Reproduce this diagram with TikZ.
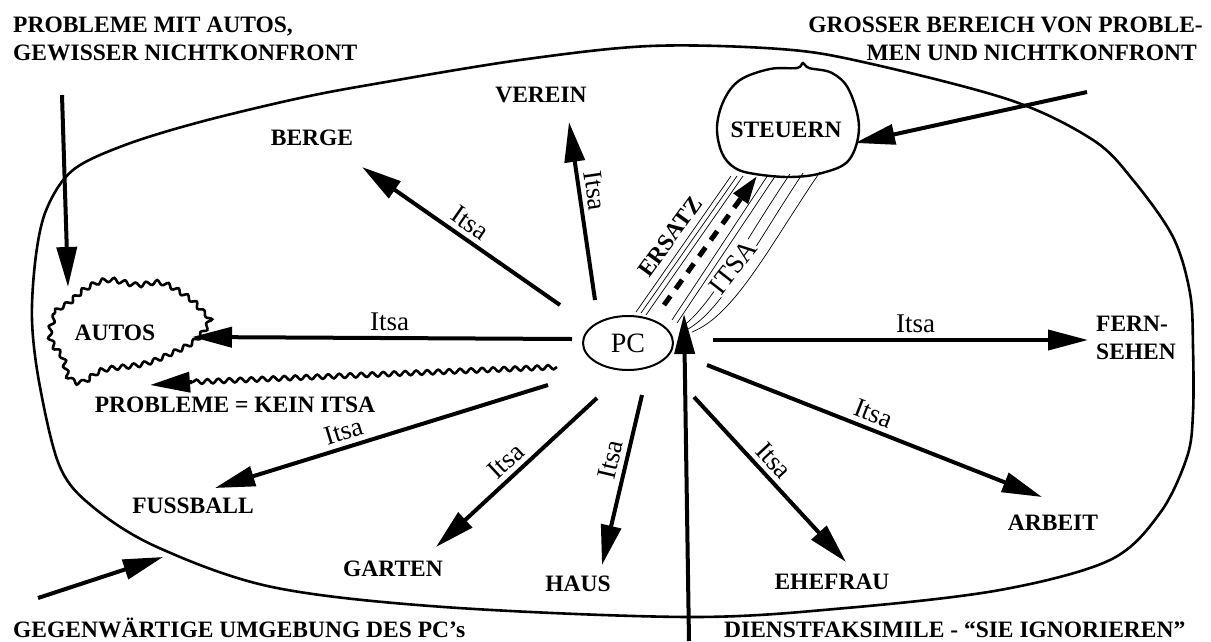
\documentclass[tikz,border=0pt]{standalone}
\usepackage{fontspec}
\setmainfont{Liberation Serif}
\usetikzlibrary{arrows.meta,decorations.pathmorphing,shapes.geometric}
\begin{document}
\begin{tikzpicture}[x=1pt,y=-1pt,
  lbl/.style={font=\fontsize{23.5}{28}\selectfont\bfseries, inner sep=0pt},
  itsa/.style={font=\fontsize{27}{29}\selectfont, inner sep=2pt, sloped, above=3pt},
  arr/.style={line width=4pt, -{Triangle[length=40pt,width=20pt]}},
  border/.style={line width=2.6pt},
  band/.style={line width=0.7pt},
  wavy/.style={line width=2.6pt, decorate, decoration={snake, segment length=11pt, amplitude=2.2pt}},
]
\useasboundingbox (0,0) rectangle (1211,641);

% environment boundary
\draw[border] plot[smooth cycle, tension=0.55] coordinates {
 (32,320) (36,255) (47,208) (73,170) (125,145) (200,122) (300,98) (380,83)
 (520,60) (650,46) (780,49) (863,62) (1010,100) (1093,140) (1133,180)
 (1173,237) (1190,293) (1193,347) (1193,413) (1187,457) (1160,513)
 (1110,560) (1000,590) (846,608) (690,617) (444,607) (272,587) (157,547)
 (93,507) (60,467) (40,387)};

% AUTOS cloud
\draw[wavy] plot[smooth cycle, tension=0.6] coordinates {
 (47,333) (55,313) (67,305) (85,290) (107,282) (135,287) (160,285) (187,300)
 (200,313) (207,323) (193,343) (167,357) (140,367) (100,373) (80,385)
 (66,380) (60,360) (50,347)};

% STEUERN blob
\draw[line width=2.4pt] plot[smooth cycle, tension=0.6] coordinates {
 (717,127) (724,100) (740,80) (770,69) (797,68) (803,63) (809,68) (832,73)
 (849,90) (859,127) (849,160) (822,173) (790,177) (755,174) (735,168) (722,153)};

% PC
\node[draw, ellipse, line width=2pt, minimum width=90pt, minimum height=54pt,
      inner sep=0pt, font=\fontsize{28}{30}\selectfont] (pc) at (628,343) {PC};

% labels
\node[lbl, anchor=base west] (h1) at (13,32) {PROBLEME MIT AUTOS,};
\node[lbl, anchor=base west] (h2) at (13,60) {GEWISSER NICHTKONFRONT};
\node[lbl, anchor=base east] (h3) at (1203,32) {GROSSER BEREICH VON PROBLE-};
\node[lbl, anchor=base east] (h4) at (1197,60) {MEN UND NICHTKONFRONT};
\node[lbl, anchor=base west] (h5) at (13,637) {GEGENWÄRTIGE UMGEBUNG DES PC’s};
\node[lbl, anchor=base west] (h6) at (724,637) {DIENSTFAKSIMILE - “SIE IGNORIEREN”};

\node[lbl] (berge) at (312,138) {BERGE};
\node[lbl] (verein) at (541,95) {VEREIN};
\node[lbl] (steuern) at (786,130) {STEUERN};
\node[lbl] (autos) at (115,333) {AUTOS};
\node[lbl] (kein) at (235,405) {PROBLEME = KEIN ITSA};
\node[lbl] (fuss) at (193,506) {FUSSBALL};
\node[lbl] (garten) at (393,569) {GARTEN};
\node[lbl] (haus) at (578,584) {HAUS};
\node[lbl] (ehefrau) at (832,582) {EHEFRAU};
\node[lbl] (arbeit) at (1053,523) {ARBEIT};
\node[lbl, anchor=west, align=left, font=\fontsize{23.5}{28}\selectfont\bfseries] (fern) at (1096,338) {FERN-\\SEHEN};

% coordinates
\coordinate (sB) at (560,305); \coordinate (tB) at (362,167);
\coordinate (sV) at (595,300); \coordinate (tV) at (569,122);
\coordinate (sA) at (572,339); \coordinate (tA) at (192,337);
\coordinate (sW) at (557,367); \coordinate (mW) at (192,382); \coordinate (tW) at (150,385);
\coordinate (sF) at (548,385); \coordinate (tF) at (215,488);
\coordinate (sG) at (597,398); \coordinate (tG) at (436,547);
\coordinate (sH) at (642,395); \coordinate (tH) at (602,565);
\coordinate (sE) at (694,397); \coordinate (tE) at (846,562);
\coordinate (sR) at (707,365); \coordinate (tR) at (1042,497);
\coordinate (sT) at (713,340); \coordinate (tT) at (1088,340);
\coordinate (dB) at (689,641); \coordinate (dT) at (684,314);
\coordinate (tlS) at (62,95);  \coordinate (tlT) at (68,287);
\coordinate (blS) at (38,598); \coordinate (blT) at (163,557);
\coordinate (trS) at (1087,92); \coordinate (trT) at (855,143);
\coordinate (bS) at (664,305); \coordinate (bT) at (757,176);

% band of thin lines between PC and STEUERN
\draw[band] (636,312) -- (731,176);
\draw[band] (641,313) -- (737,176);
\draw[band] (646,315) -- (743,176);
\draw[band] (672,320) -- (768,175);
\draw[band] (677,323) -- (776,175);
\draw[band] (683,326) .. controls (712,305) and (745,240) .. (790,174);
\draw[band] (688,329) .. controls (722,310) and (755,245) .. (803,173);
\draw[band] (692,332) .. controls (735,315) and (770,245) .. (820,172);
\draw[line width=5pt, dash pattern=on 11pt off 9pt, -{Triangle[length=28pt,width=17pt]}] (bS) -- (bT);
\node[font=\fontsize{23.5}{26}\selectfont\bfseries, rotate=54, inner sep=0pt] (ersatz) at (670,237) {ERSATZ};
\node[font=\fontsize{27}{29}\selectfont, rotate=52, fill=white, inner sep=1pt] (itsaband) at (733,267) {ITSA};

% arrows from PC
\draw[arr] (sB) -- node[itsa, pos=0.5] (iB) {Itsa} (tB);
\draw[arr] (sV) -- node[itsa, pos=0.6] (iV) {Itsa} (tV);
\draw[arr] (sA) -- node[itsa, pos=0.48] (iA) {Itsa} (tA);
\draw[arr] (sF) -- node[itsa, pos=0.6] (iF) {Itsa} (tF);
\draw[arr] (sG) -- node[itsa, pos=0.5] (iG) {Itsa} (tG);
\draw[arr] (sH) -- node[itsa, pos=0.4] (iH) {Itsa} (tH);
\draw[arr] (sE) -- node[itsa, pos=0.45] (iE) {Itsa} (tE);
\draw[arr] (sR) -- node[itsa, pos=0.48] (iR) {Itsa} (tR);
\draw[arr] (sT) -- node[itsa, pos=0.54] (iT) {Itsa} (tT);

% wavy problem arrow
\draw[wavy] (sW) -- (mW);
\draw[arr] (mW) -- (tW);

% outside arrows
\draw[arr] (dB) -- (dT);
\draw[arr] (tlS) -- (tlT);
\draw[arr] (blS) -- (blT);
\draw[arr] (trS) -- (trT);
\end{tikzpicture}
\end{document}
